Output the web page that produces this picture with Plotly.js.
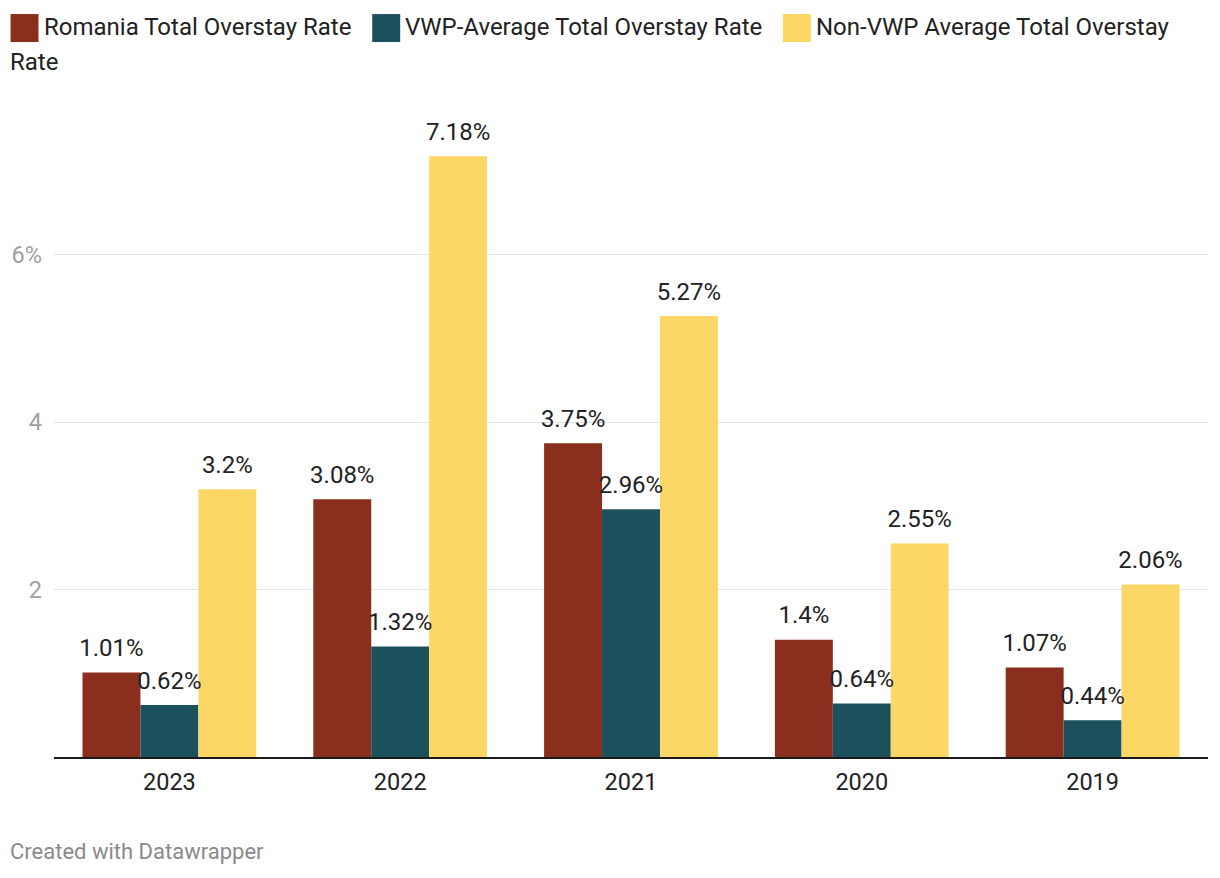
<!DOCTYPE html>
<html>
<head>
<meta charset="utf-8">
<script src="https://cdn.plot.ly/plotly-3.0.1.min.js"></script>
<style>
  html, body { margin: 0; padding: 0; background: #fff; }
  #chart { width: 1220px; height: 878px; }
</style>
</head>
<body>
<div id="chart"></div>
<script>
const years = ['2023', '2022', '2021', '2020', '2019'];
const seriesNames = ['Romania Total Overstay Rate', 'VWP-Average Total Overstay Rate', 'Non-VWP Average Total Overstay Rate'];
const romania = [1.01, 3.08, 3.75, 1.4, 1.07];
const vwpAverage = [0.62, 1.32, 2.96, 0.64, 0.44];
const nonVwpAverage = [3.2, 7.18, 5.27, 2.55, 2.06];
const colors = ['#8a2e1e', '#1b505c', '#fdd766'];
const yTickVals = [2, 4, 6];
const yTickText = ['2', '4', '6%'];

const seriesValues = [romania, vwpAverage, nonVwpAverage];
const FONT = 'Roboto, sans-serif';

const W = 1220, H = 878;
const margin = { l: 53.5, r: 11.5, t: 100, b: 120.5 };
const plotW = W - margin.l - margin.r;
const plotH = H - margin.t - margin.b;
const px2x = px => (px - margin.l) / plotW;
const px2y = py => (H - margin.b - py) / plotH;

const traces = [];
seriesValues.forEach((vals, i) => {
  traces.push({
    type: 'bar', x: years, y: vals, name: seriesNames[i],
    marker: { color: colors[i] }, showlegend: false, hoverinfo: 'x+y'
  });
});
seriesValues.forEach((vals, i) => {
  traces.push({
    type: 'scatter', mode: 'markers+text', x: years, y: vals,
    text: vals.map(v => v + '%'), textposition: 'top center',
    textfont: { family: FONT, size: 24, color: '#222' },
    marker: { size: 15, opacity: 0, color: colors[i] },
    showlegend: false, hoverinfo: 'skip', cliponaxis: false
  });
});

// Legend built from series names and colours
const annotations = [];
const shapes = [];
const legendSquares = [10, 372, 783];
const legendLabels = ['Romania Total Overstay Rate', 'VWP-Average Total Overstay Rate', 'Non-VWP Average Total Overstay'];
legendSquares.forEach((sx, i) => {
  shapes.push({
    type: 'rect', xref: 'paper', yref: 'paper',
    x0: px2x(sx), x1: px2x(sx + 28), y0: px2y(42), y1: px2y(14),
    fillcolor: colors[i], line: { width: 0 }
  });
  annotations.push({
    xref: 'paper', yref: 'paper', x: px2x(sx + 31), y: px2y(27),
    xanchor: 'left', yanchor: 'middle', showarrow: false,
    text: legendLabels[i], font: { family: FONT, size: 24, color: '#222' }
  });
});
annotations.push({
  xref: 'paper', yref: 'paper', x: px2x(7), y: px2y(62),
  xanchor: 'left', yanchor: 'middle', showarrow: false,
  text: 'Rate', font: { family: FONT, size: 24, color: '#222' }
});
annotations.push({
  xref: 'paper', yref: 'paper', x: px2x(7), y: px2y(852),
  xanchor: 'left', yanchor: 'middle', showarrow: false,
  text: 'Created with Datawrapper', font: { family: FONT, size: 22, color: '#8a8a8a' }
});

const layout = {
  width: W, height: H,
  margin: margin,
  paper_bgcolor: '#fff', plot_bgcolor: '#fff',
  barmode: 'group', bargap: 0.247, bargroupgap: 0,
  scattermode: 'group', scattergap: 0.247,
  showlegend: false,
  font: { family: FONT, color: '#222' },
  xaxis: {
    type: 'category', showgrid: false, zeroline: false,
    showline: true, linecolor: '#1a1a1a', linewidth: 2,
    ticks: '', tickfont: { family: FONT, size: 23.5, color: '#222' },
    ticklabelstandoff: 3, fixedrange: true
  },
  yaxis: {
    range: [0, plotH / 83.75], tickvals: yTickVals, ticktext: yTickText,
    showgrid: true, gridcolor: '#e4e4e4', gridwidth: 1,
    zeroline: false, showline: false, ticks: '',
    tickfont: { family: FONT, size: 23.5, color: '#a0a0a0' },
    ticklabelstandoff: 11, fixedrange: true
  },
  annotations: annotations,
  shapes: shapes
};

Plotly.newPlot('chart', traces, layout, { displayModeBar: false, staticPlot: true });
</script>
</body>
</html>
